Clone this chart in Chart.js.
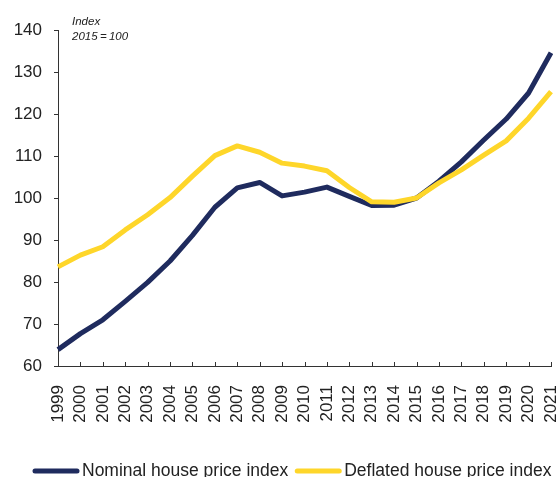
<!DOCTYPE html>
<html>
<head>
<meta charset="utf-8">
<script src="https://cdn.jsdelivr.net/npm/chart.js@4.4.1/dist/chart.umd.min.js"></script>
<style>
  html, body { margin: 0; padding: 0; background: #fff; }
</style>
</head>
<body>
<canvas id="housePrices" width="558" height="477"></canvas>
<script>
const years = ['1999', '2000', '2001', '2002', '2003', '2004', '2005', '2006', '2007', '2008', '2009',
  '2010', '2011', '2012', '2013', '2014', '2015', '2016', '2017', '2018', '2019', '2020', '2021'];
const nominal = [63.9, 67.7, 71.0, 75.4, 79.9, 85.0, 91.1, 97.8, 102.4, 103.7, 100.5,
  101.4, 102.6, 100.4, 98.2, 98.3, 100.0, 104.0, 108.6, 113.8, 118.8, 125.0, 134.6];
const deflated = [83.6, 86.4, 88.4, 92.4, 96.0, 100.1, 105.2, 110.1, 112.4, 110.9, 108.3,
  107.6, 106.5, 102.5, 99.1, 99.0, 100.0, 103.6, 106.7, 110.2, 113.6, 119.0, 125.3];
const seriesNames = ['Nominal house price index', 'Deflated house price index'];
const unitNote = ['Index', '2015\u2009=\u2009100'];

const NAVY = '#1f2b5e';
const GOLD = '#fed62a';
const AXIS = '#333333';
const FONT = "'Liberation Sans', Arial, sans-serif";

// short ticks pointing up into the plot from the x axis
const innerTicks = {
  id: 'innerTicks',
  afterDraw(chart) {
    const x = chart.scales.x;
    const { ctx } = chart;
    const bottom = chart.chartArea.bottom;
    ctx.save();
    ctx.strokeStyle = AXIS;
    ctx.lineWidth = 1;
    ctx.beginPath();
    for (let i = 1; i < years.length; i++) {
      const px = Math.round(x.getPixelForTick(i)) + 0.5;
      ctx.moveTo(px, bottom);
      ctx.lineTo(px, bottom - 4);
    }
    ctx.stroke();
    ctx.restore();
  }
};

const unitLabel = {
  id: 'unitLabel',
  afterDraw(chart) {
    const { ctx, chartArea } = chart;
    ctx.save();
    ctx.fillStyle = '#222';
    ctx.font = 'italic 11.5px ' + FONT;
    ctx.textBaseline = 'middle';
    ctx.fillText(unitNote[0], chartArea.left + 14, chartArea.top - 8);
    ctx.fillText(unitNote[1], chartArea.left + 14, chartArea.top + 7);
    ctx.restore();
  }
};

// legend row along the bottom edge: line sample followed by the series name
const bottomLegend = {
  id: 'bottomLegend',
  afterDraw(chart) {
    const { ctx } = chart;
    const y = 471;
    let x = 33;
    ctx.save();
    ctx.font = '17.5px ' + FONT;
    ctx.textBaseline = 'middle';
    chart.data.datasets.forEach((ds) => {
      ctx.strokeStyle = ds.borderColor;
      ctx.lineWidth = 5;
      ctx.lineCap = 'round';
      ctx.beginPath();
      ctx.moveTo(x + 2, y);
      ctx.lineTo(x + 44, y);
      ctx.stroke();
      ctx.fillStyle = '#222';
      ctx.fillText(ds.label, x + 49, y);
      x += 49 + ctx.measureText(ds.label).width + 7;
    });
    ctx.restore();
  }
};

new Chart(document.getElementById('housePrices'), {
  type: 'line',
  data: {
    labels: years,
    datasets: [{
      label: seriesNames[0],
      data: nominal,
      borderColor: NAVY,
      backgroundColor: NAVY,
      borderWidth: 5,
      order: 2
    }, {
      label: seriesNames[1],
      data: deflated,
      borderColor: GOLD,
      backgroundColor: GOLD,
      borderWidth: 5,
      order: 1
    }]
  },
  options: {
    responsive: false,
    animation: false,
    layout: { padding: { top: 30, right: 0, left: 0, bottom: 51 } },
    elements: {
      point: { radius: 0 },
      line: { tension: 0, borderJoinStyle: 'round' }
    },
    scales: {
      x: {
        grid: { display: false },
        border: { display: true, color: AXIS, width: 1 },
        ticks: {
          autoSkip: false,
          maxRotation: 90,
          minRotation: 90,
          padding: 11,
          color: '#222',
          font: { family: FONT, size: 17 }
        },
        afterFit(scale) {
          scale.height = 60;
          scale.paddingLeft = 0;
          scale.paddingRight = 7;
        }
      },
      y: {
        min: 60,
        max: 140,
        grid: { drawOnChartArea: false, drawTicks: true, tickLength: 4, color: AXIS },
        border: { display: true, color: AXIS, width: 1 },
        ticks: {
          stepSize: 10,
          padding: 12,
          color: '#222',
          font: { family: FONT, size: 17 }
        },
        afterFit(scale) { scale.width = 58; }
      }
    },
    plugins: {
      tooltip: { enabled: false },
      legend: { display: false }
    }
  },
  plugins: [innerTicks, unitLabel, bottomLegend]
});
</script>
</body>
</html>
